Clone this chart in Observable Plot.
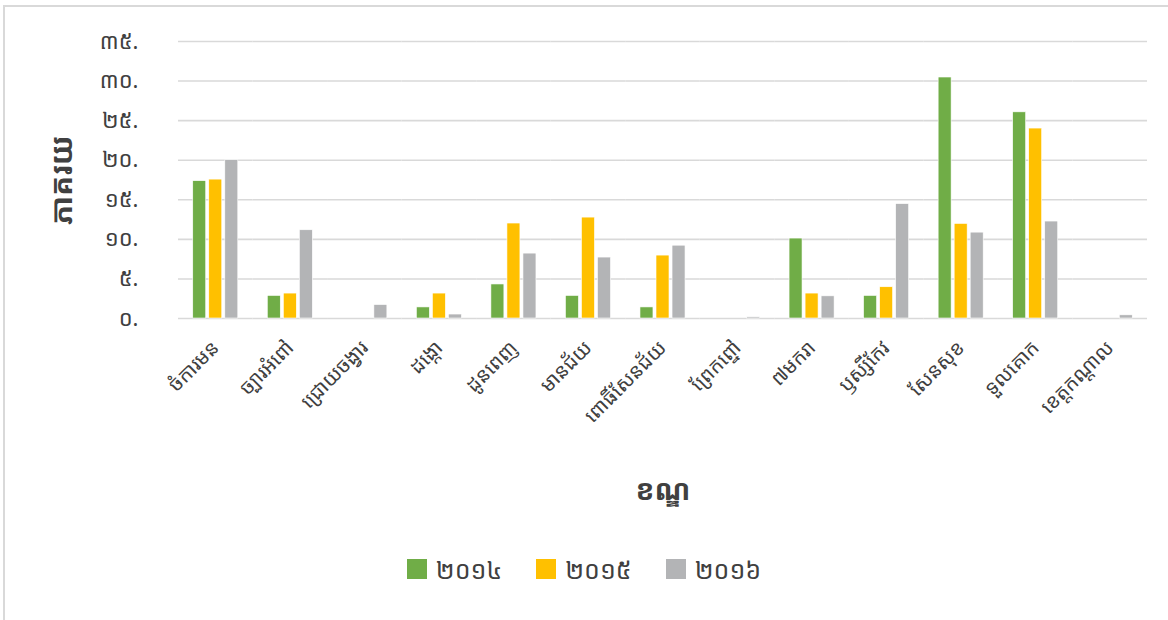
<!DOCTYPE html>
<html><head><meta charset="utf-8">
<script src="https://cdn.jsdelivr.net/npm/d3@7"></script>
<script src="https://cdn.jsdelivr.net/npm/@observablehq/plot@0.6"></script>
<style>
html,body{margin:0;padding:0;background:#fff;overflow:hidden;width:1168px;height:620px}
body{position:relative;font-family:"Noto Sans Khmer","Khmer OS","Khmer OS System","DejaVu Sans",sans-serif;color:#404040}
#frame{position:absolute;left:3px;top:5px;width:1200px;height:700px;border:2px solid #D9D9D9;box-sizing:border-box;pointer-events:none}
#chart{position:absolute;left:0;top:0}
#legend{position:absolute;left:0;top:552px;width:1168px;display:flex;justify-content:center;align-items:center;font-size:25px;color:#404040}
#legend .item{display:flex;align-items:center;margin:0 17px}
#legend .sw{width:20px;height:20px;margin-right:9px}
</style>
</head><body>
<div id="chart"></div>
<div id="legend"></div>
<div id="frame"></div>
<script>
const categories = ["ចំការមន","ច្បារអំពៅ","ជ្រោយចង្វារ","ដង្កោ","ដូនពេញ","មានជ័យ","ពោធិ៍សែនជ័យ","ព្រែកព្នៅ","៧មករា","ឫស្សីកែវ","សែនសុខ","ទួលគោក","ខេត្តកណ្ដាល"];
const years = ["២០១៤","២០១៥","២០១៦"];
const v2014 = [17.35, 2.85, 0, 1.4, 4.3, 2.85, 1.4, 0, 10.1, 2.85, 30.45, 26.05, 0];
const v2015 = [17.55, 3.15, 0, 3.15, 12.0, 12.75, 7.95, 0, 3.15, 3.95, 11.95, 24.0, 0];
const v2016 = [20.0, 11.15, 1.7, 0.5, 8.2, 7.7, 9.2, 0.15, 2.8, 14.45, 10.85, 12.25, 0.4];
const yTicks = [0, 5, 10, 15, 20, 25, 30, 35];
const yTickLabels = ["០.", "៥.", "១០.", "១៥.", "២០.", "២៥.", "៣០.", "៣៥."];
const yTitle = "ភាគរយ";
const xTitle = "ខណ្ឌ";
const colors = ["#70AD47", "#FFC000", "#B3B4B6"];

const series = [v2014, v2015, v2016];
const rows = categories.flatMap((c, i) => years.map((y, j) => ({category: c, year: y, value: series[j][i]})));
const yLabelMap = new Map(yTicks.map((t, i) => [t, yTickLabels[i]]));
const font = '"Noto Sans Khmer","Khmer OS","Khmer OS System","DejaVu Sans",sans-serif';

const chart = Plot.plot({
  width: 1168, height: 520,
  marginLeft: 178, marginRight: 21, marginTop: 41, marginBottom: 202,
  style: {fontFamily: font, color: "#404040", background: "transparent"},
  fx: {domain: categories, padding: 0, round: false, label: null},
  x: {domain: years, paddingInner: 0.19, paddingOuter: 0.92, round: false, axis: null},
  y: {domain: [0, 35], label: null},
  color: {domain: years, range: colors},
  marks: [
    Plot.gridY(yTicks, {stroke: "#D9D9D9", strokeOpacity: 1, strokeWidth: 1.6}),
    Plot.barY(rows, {fx: "category", x: "year", y: "value", fill: "year", stroke: "white", strokeWidth: 0.6}),
    Plot.axisY(yTicks, {tickFormat: d => yLabelMap.get(d), tickSize: 0, tickPadding: 40, fontSize: 22, label: null}),
    Plot.axisY({ticks: [], label: yTitle, labelAnchor: "center", labelArrow: "none", labelOffset: 128, fontSize: 30, fontWeight: "bold"}),
    Plot.axisFx({anchor: "bottom", tickRotate: -45, tickSize: 0, tickPadding: 26, fontSize: 20, label: null}),
    Plot.axisFx({anchor: "bottom", ticks: [], label: xTitle, labelAnchor: "center", labelArrow: "none", labelOffset: 181, fontSize: 28, fontWeight: "bold"})
  ]
});
document.getElementById("chart").appendChild(chart);

const legend = d3.select("#legend");
years.forEach((y, j) => {
  const it = legend.append("div").attr("class", "item");
  it.append("div").attr("class", "sw").style("background", colors[j]);
  it.append("span").text(y);
});
</script>
</body></html>
